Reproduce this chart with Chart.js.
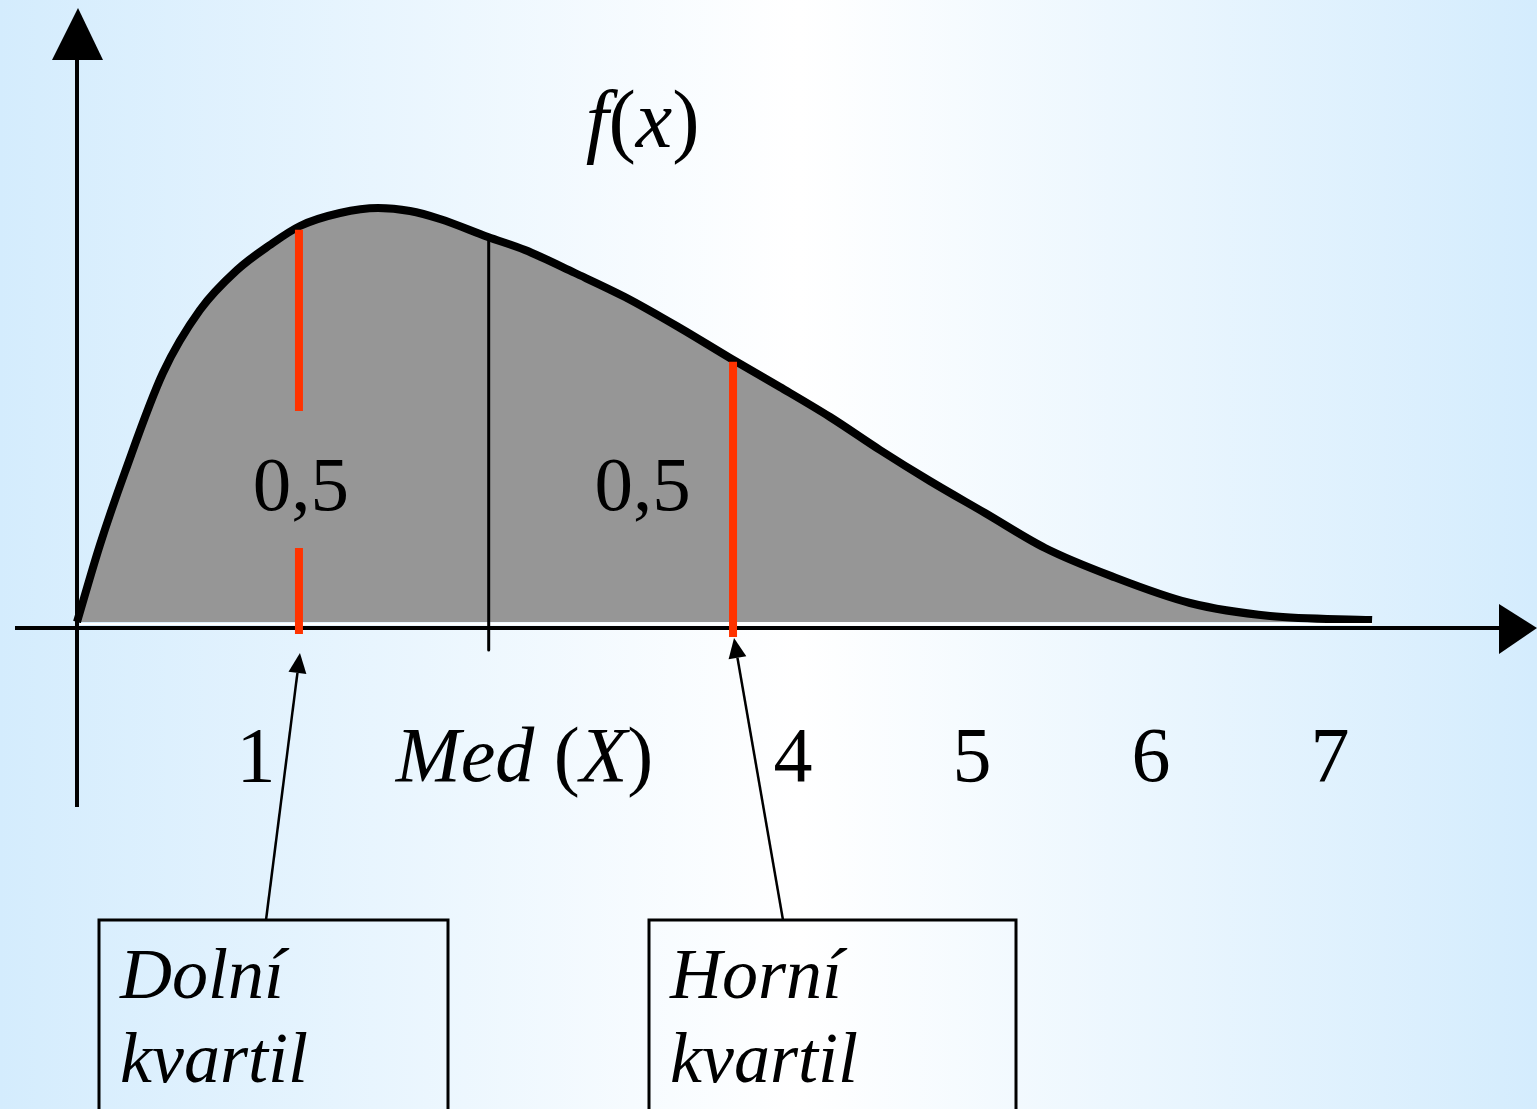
<!DOCTYPE html>
<html><head><meta charset="utf-8">
<script src="https://cdn.jsdelivr.net/npm/chart.js@4.4.0/dist/chart.umd.min.js"></script>
<style>html,body{margin:0;padding:0;overflow:hidden;background:#fff}canvas{display:block}</style>
</head><body>
<canvas id="c" width="1537" height="1109"></canvas>
<script>
// density curve f(x)
const curveX = [0, 0.128, 0.268, 0.480, 0.687, 0.894, 1.078, 1.246, 1.469, 1.682, 1.860, 2.028, 2.296, 2.503, 2.782, 3.061, 3.369, 3.648, 3.927, 4.207, 4.486, 4.765, 5.073, 5.408, 5.777, 6.218, 6.665, 7.235];
const curveY = [0, 0.077, 0.150, 0.249, 0.312, 0.352, 0.377, 0.396, 0.409, 0.414, 0.411, 0.403, 0.385, 0.372, 0.349, 0.325, 0.294, 0.264, 0.235, 0.205, 0.172, 0.141, 0.109, 0.074, 0.046, 0.019, 0.006, 0.002];
// quartiles and median
const quartileX = [1.24, 3.665];
const medianX = 2.30;
// x tick labels
const tickValues = [1, 2.5, 4, 5, 6, 7];
const tickLabels = ['1', 'Med (X)', '4', '5', '6', '7'];
// area labels
const areaLabels = ['0,5', '0,5'];
const areaLabelX = [1.25, 3.16];
// callout boxes
const boxLabels = [['Dolní', 'kvartil'], ['Horní', 'kvartil']];
const yLabel = 'f(x)';

const FONT = "'Liberation Serif', 'Times New Roman', serif";

function runsOf(text) {
  const runs = [];
  for (const ch of text) {
    const it = /[A-Za-zÀ-ž]/.test(ch);
    if (runs.length && runs[runs.length - 1].it === it) runs[runs.length - 1].t += ch;
    else runs.push({ t: ch, it });
  }
  return runs;
}
function drawMixed(ctx, text, x, y, size, align) {
  const runs = runsOf(text);
  let total = 0;
  runs.forEach(r => {
    ctx.font = (r.it ? 'italic ' : '') + size + 'px ' + FONT;
    r.w = ctx.measureText(r.t).width;
    total += r.w;
  });
  let cx = align === 'center' ? x - total / 2 : x;
  ctx.textBaseline = 'alphabetic';
  ctx.textAlign = 'left';
  runs.forEach(r => {
    ctx.font = (r.it ? 'italic ' : '') + size + 'px ' + FONT;
    ctx.fillText(r.t, cx, y);
    cx += r.w;
  });
}
function curveAt(x) {
  for (let i = 1; i < curveX.length; i++) {
    if (x <= curveX[i]) {
      const t = (x - curveX[i - 1]) / (curveX[i] - curveX[i - 1]);
      return curveY[i - 1] + t * (curveY[i] - curveY[i - 1]);
    }
  }
  return curveY[curveY.length - 1];
}
function line(ctx, x1, y1, x2, y2) {
  ctx.beginPath(); ctx.moveTo(x1, y1); ctx.lineTo(x2, y2); ctx.stroke();
}
function arrowTo(ctx, x1, y1, x2, y2, len, hw) {
  const a = Math.atan2(y2 - y1, x2 - x1);
  const bx = x2 - len * Math.cos(a), by = y2 - len * Math.sin(a);
  line(ctx, x1, y1, bx, by);
  ctx.beginPath();
  ctx.moveTo(x2, y2);
  ctx.lineTo(bx + hw * Math.sin(a), by - hw * Math.cos(a));
  ctx.lineTo(bx - hw * Math.sin(a), by + hw * Math.cos(a));
  ctx.closePath(); ctx.fill();
}

const bgPlugin = {
  id: 'bg',
  beforeDraw(chart) {
    const { ctx, width, height } = chart;
    const g = ctx.createLinearGradient(0, 0, width, 0);
    g.addColorStop(0, 'rgb(212,236,253)');
    g.addColorStop(0.52, 'rgb(255,255,255)');
    g.addColorStop(1, 'rgb(212,236,253)');
    ctx.save(); ctx.fillStyle = g; ctx.fillRect(0, 0, width, height); ctx.restore();
  }
};

const overlayPlugin = {
  id: 'overlay',
  afterDatasetsDraw(chart) {
    const ctx = chart.ctx;
    const xs = chart.scales.x, ys = chart.scales.y;
    const X = v => xs.getPixelForValue(v), Y = v => ys.getPixelForValue(v);
    const base = Y(0);
    ctx.save();
    // thin white line under fill
    ctx.strokeStyle = '#ffffff'; ctx.lineWidth = 2;
    line(ctx, X(0) + 3, base + 2, X(curveX[curveX.length - 1]), base + 2);
    // axes
    ctx.strokeStyle = '#000'; ctx.fillStyle = '#000'; ctx.lineWidth = 4; ctx.lineCap = 'butt';
    const axY = base + 6;
    line(ctx, 15, axY, 1502, axY);
    ctx.beginPath(); ctx.moveTo(1537, axY); ctx.lineTo(1499, axY - 24); ctx.lineTo(1499, axY + 26); ctx.closePath(); ctx.fill();
    const axX = X(0);
    line(ctx, axX, 807, axX, 58);
    ctx.beginPath(); ctx.moveTo(axX + 1, 8); ctx.lineTo(axX - 25, 60); ctx.lineTo(axX + 26, 60); ctx.closePath(); ctx.fill();
    // median line
    ctx.lineWidth = 3; ctx.lineCap = 'round';
    line(ctx, X(medianX), Y(curveAt(medianX)) + 2, X(medianX), 650);
    // quartile red lines
    ctx.strokeStyle = '#ff3300'; ctx.lineWidth = 8; ctx.lineCap = 'butt';
    const q1 = X(quartileX[0]), q3 = X(quartileX[1]);
    line(ctx, q1, Y(curveAt(quartileX[0])) + 3, q1, 411);
    line(ctx, q1, 548, q1, 634);
    line(ctx, q3, Y(curveAt(quartileX[1])) + 2, q3, 637);
    // texts
    ctx.fillStyle = '#000';
    drawMixed(ctx, yLabel, X(3.16), 147, 82, 'center');
    areaLabels.forEach((t, i) => drawMixed(ctx, t, X(areaLabelX[i]), 510, 77, 'center'));
    tickValues.forEach((v, i) => drawMixed(ctx, tickLabels[i], X(v), 781, 78, 'center'));
    // callout arrows
    ctx.strokeStyle = '#000'; ctx.fillStyle = '#000'; ctx.lineWidth = 2.5;
    arrowTo(ctx, 266, 920, q1 + 1, 653, 20, 9);
    arrowTo(ctx, 783, 920, q3 + 1, 638, 20, 9);
    // boxes
    ctx.lineWidth = 3;
    ctx.strokeRect(99, 920, 349, 230);
    ctx.strokeRect(649, 920, 367, 230);
    boxLabels[0].forEach((t, i) => drawMixed(ctx, t, 120, 998 + i * 84, 72, 'left'));
    boxLabels[1].forEach((t, i) => drawMixed(ctx, t, 670, 998 + i * 84, 72, 'left'));
    ctx.restore();
  }
};

const W = 1537, H = 1109;
const x0 = 77, unitX = 179, y0 = 622, unitY = 1000;
new Chart(document.getElementById('c'), {
  type: 'scatter',
  data: {
    datasets: [{
      data: curveX.map((x, i) => ({ x, y: curveY[i] })),
      showLine: true,
      fill: 'origin',
      backgroundColor: '#969696',
      borderColor: '#000000',
      borderWidth: 8,
      borderJoinStyle: 'round',
      pointRadius: 0,
      tension: 0.25,
      cubicInterpolationMode: 'monotone'
    }]
  },
  options: {
    responsive: false,
    animation: false,
    devicePixelRatio: 1,
    layout: { padding: 0 },
    plugins: { legend: { display: false }, tooltip: { enabled: false } },
    scales: {
      x: { type: 'linear', display: false, min: -x0 / unitX, max: (W - x0) / unitX },
      y: { type: 'linear', display: false, min: (y0 - H) / unitY, max: y0 / unitY }
    }
  },
  plugins: [bgPlugin, overlayPlugin]
});
</script>
</body></html>
